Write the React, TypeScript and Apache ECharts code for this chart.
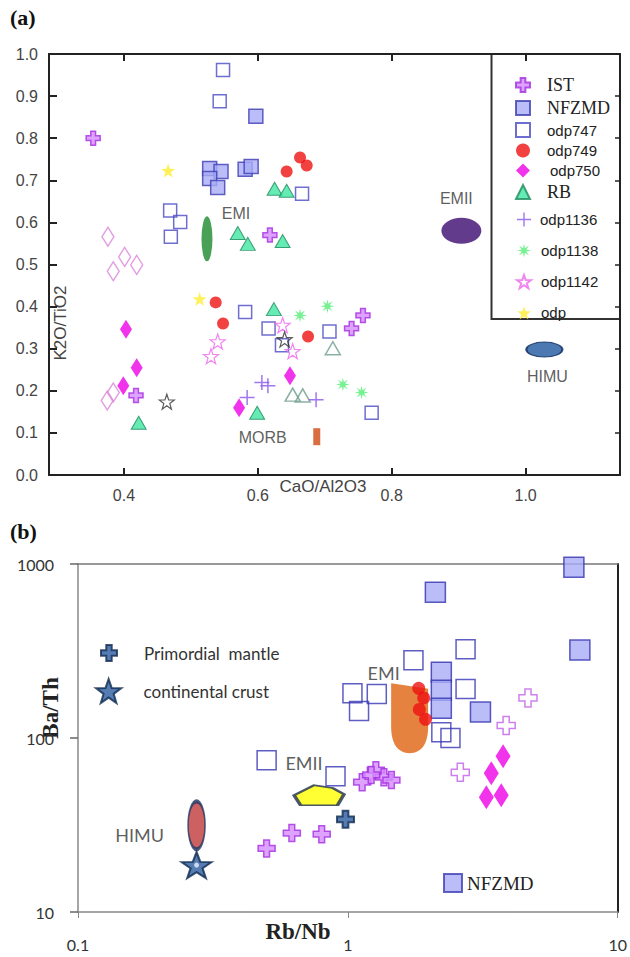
import React, { useEffect, useRef } from 'react';
import * as echarts from 'echarts';

// ---------- Panel (a): CaO/Al2O3 vs K2O/TiO2 ----------
const xTicksA = [0.4, 0.6, 0.8, 1.0];
const xTickLabelsA = ['0.4', '0.6', '0.8', '1.0'];
const yTickLabelsA = ['0.0', '0.1', '0.2', '0.3', '0.4', '0.5', '0.6', '0.7', '0.8', '0.9', '1.0'];

const istA = [[0.354, 0.80], [0.618, 0.570], [0.740, 0.348], [0.757, 0.379], [0.418, 0.189]];
const nfzmdA = [[0.597, 0.852], [0.528, 0.728], [0.545, 0.721], [0.528, 0.704], [0.540, 0.683], [0.581, 0.726], [0.590, 0.733]];
const odp747A = [[0.548, 0.962], [0.543, 0.888], [0.469, 0.628], [0.484, 0.601], [0.470, 0.566], [0.666, 0.668], [0.581, 0.387], [0.616, 0.348], [0.636, 0.308], [0.707, 0.341], [0.770, 0.148]];
const odp749A = [[0.663, 0.754], [0.673, 0.735], [0.643, 0.721], [0.537, 0.410], [0.548, 0.360], [0.675, 0.329]];
const odp750A = [[0.403, 0.346], [0.419, 0.255], [0.399, 0.212], [0.572, 0.160], [0.648, 0.236]];
const openDiamondA = [[0.376, 0.566], [0.401, 0.518], [0.384, 0.484], [0.419, 0.499], [0.375, 0.177], [0.384, 0.196]];
const rbA = [[0.625, 0.680], [0.643, 0.675], [0.570, 0.575], [0.585, 0.549], [0.637, 0.556], [0.624, 0.394], [0.422, 0.124], [0.599, 0.148]];
const openTriA = [[0.652, 0.191], [0.667, 0.189], [0.712, 0.301]];
const odp1136A = [[0.584, 0.184], [0.606, 0.220], [0.615, 0.212], [0.687, 0.179]];
const odp1138A = [[0.663, 0.379], [0.704, 0.401], [0.727, 0.215], [0.755, 0.196]];
const odp1142A = [[0.540, 0.317], [0.530, 0.282], [0.637, 0.356], [0.652, 0.294]];
const darkStarA = [[0.464, 0.174], [0.640, 0.322]];
const odpA = [[0.466, 0.723], [0.513, 0.418]];

const regionNamesA = ['EMI', 'EMII', 'HIMU', 'MORB'];
const regionValuesA = [[0.524, 0.561], [0.904, 0.580], [1.028, 0.298], [0.688, 0.091]];

// ---------- Panel (b): Rb/Nb vs Ba/Th (log-log) ----------
const xTickLabelsB = ['0.1', '1', '10'];
const yTickLabelsB = ['10', '100', '1000'];

const odp747B = [[1.75, 280], [2.73, 324], [1.04, 181], [1.28, 179], [1.10, 143], [2.73, 191], [2.22, 108], [2.40, 100], [0.50, 74.5], [0.90, 60.3]];
const nfzmdB = [[6.88, 959], [2.11, 689], [7.24, 320], [2.22, 239], [2.22, 188], [2.22, 148], [3.10, 141]];
const odp749B = [[1.83, 193], [1.91, 170], [1.84, 146], [1.94, 128]];
const istOpenB = [[4.65, 170], [3.86, 118], [2.61, 63.5]];
const istB = [[1.13, 55.7], [1.27, 65.3], [1.36, 59.5], [1.45, 57.3], [1.22, 61.3], [0.50, 23.2], [0.62, 28.4], [0.80, 28.0]];
const odp750B = [[3.76, 78.6], [3.40, 62.8], [3.70, 46.9], [3.26, 45.7]];
const primordialMantleB = [[0.98, 34.1]];
const continentalCrustB = [[0.275, 18.6]];

const regionNamesB = ['HIMU', 'EMII', 'EMI'];
const regionValuesB = [[0.275, 31.5], [0.782, 46.9], [1.694, 130]];

// ---------- symbols ----------
const CROSS = 'path://M33,0 H67 V33 H100 V67 H67 V100 H33 V67 H0 V33 H33 Z';
const THIN_PLUS = 'path://M45,0 H55 V45 H100 V55 H55 V100 H45 V55 H0 V45 H45 Z';
const STAR5 = 'path://M50,0 L61.8,33.8 L97.6,34.5 L69,56.2 L79.4,90.5 L50,70 L20.6,90.5 L31,56.2 L2.4,34.5 L38.2,33.8 Z';
const ASTER = 'path://M100,50 L66.6,56.9 L85.4,85.4 L56.9,66.6 L50,100 L43.1,66.6 L14.6,85.4 L33.4,56.9 L0,50 L33.4,43.1 L14.6,14.6 L43.1,33.4 L50,0 L56.9,33.4 L85.4,14.6 L66.6,43.1 Z';
const ELLIPSE = 'path://M0,50 A50,50 0 1,1 100,50 A50,50 0 1,1 0,50 Z';
const SHIELD = 'path://M0,0 L100,8 L100,62 C100,88 80,100 50,100 C20,100 0,88 0,62 Z';
const PENTAGON = 'path://M0,50 L40,0 L77,14 L100,45 L87,100 L13,100 Z';

const SANS = '"Liberation Sans", Arial, sans-serif';
const SERIF = '"Liberation Serif", "Times New Roman", serif';
const CAL = 'Lato, "Open Sans", sans-serif';

function pts(name: string, data: number[][], symbol: string, size: any, itemStyle: any, panel: number, extra: any = {}) {
  return {
    type: 'scatter',
    name,
    data,
    symbol,
    symbolSize: size,
    itemStyle,
    xAxisIndex: panel === 0 ? 0 : 2,
    yAxisIndex: panel === 0 ? 0 : 2,
    emphasis: { disabled: true },
    ...extra,
  };
}

function regionLabel(text: string, offset: number[], font: string, size: number) {
  return {
    label: {
      show: true,
      position: 'inside',
      offset,
      formatter: text,
      color: '#333',
      fontFamily: font,
      fontSize: size,
    },
  };
}

const hollow = 'rgba(255,255,255,0)';

const regionStylesA = [
  { symbol: ELLIPSE, size: [11, 45], style: { color: '#1b8a2e' }, offset: [29, -25] },
  { symbol: ELLIPSE, size: [40, 26], style: { color: '#3c0a70' }, offset: [-5, -32] },
  { symbol: ELLIPSE, size: [36, 15], style: { color: '#2158a0', borderColor: '#0c2a5c', borderWidth: 1.5 }, offset: [3, 27] },
  { symbol: 'rect', size: [7, 17], style: { color: '#d04a14' }, offset: [-54, 1] },
];
const regionStylesB = [
  { symbol: ELLIPSE, size: [17, 48], style: { color: '#c03a3a', borderColor: '#1d3461', borderWidth: 2.5 }, offset: [-57, 10] },
  { symbol: PENTAGON, size: [50, 20], style: { color: '#ffff00', borderColor: '#1d2d4f', borderWidth: 2.5 }, offset: [-15, -32] },
  { symbol: SHIELD, size: [37, 70], style: { color: '#e0630f' }, offset: [-26, -45] },
];

const istStyle = { color: '#d58cff', borderColor: '#a52de0', borderWidth: 1.5 };
const nfzmdStyle = { color: '#a9adf5', borderColor: '#3c3cb4', borderWidth: 1.5 };
const odp747Style = { color: hollow, borderColor: '#4a4ac4', borderWidth: 1.5 };

function buildOption() {
  const series: any[] = [];

  regionNamesA.forEach((n, i) => {
    const s = regionStylesA[i];
    series.push(pts(n + ' (a)', [regionValuesA[i]], s.symbol, s.size, s.style, 0, regionLabel(n, s.offset, SANS, 16)));
  });
  series.push(pts('open diamonds', openDiamondA, 'diamond', [12, 19], { color: hollow, borderColor: '#d98ad9', borderWidth: 1.5 }, 0));
  series.push(pts('odp747', odp747A, 'rect', 13, odp747Style, 0));
  series.push(pts('NFZMD', nfzmdA, 'rect', 14, nfzmdStyle, 0));
  series.push(pts('RB', rbA, 'triangle', [15, 13], { color: '#3ee6a0', borderColor: '#1d8a5c', borderWidth: 1 }, 0));
  series.push(pts('open triangles', openTriA, 'triangle', [15, 13], { color: hollow, borderColor: '#6e9e8e', borderWidth: 1.5 }, 0));
  series.push(pts('odp749', odp749A, 'circle', 12, { color: '#ee1111' }, 0));
  series.push(pts('odp750', odp750A, 'diamond', [12, 19], { color: '#ee00e6' }, 0));
  series.push(pts('odp1136', odp1136A, THIN_PLUS, 15, { color: '#8a55ee' }, 0));
  series.push(pts('odp1138', odp1138A, ASTER, 14, { color: '#55ee77' }, 0));
  series.push(pts('odp1142', odp1142A, STAR5, 15, { color: hollow, borderColor: '#ee66ee', borderWidth: 1.2 }, 0));
  series.push(pts('dark stars', darkStarA, STAR5, 15, { color: hollow, borderColor: '#333', borderWidth: 1.2 }, 0));
  series.push(pts('IST', istA, CROSS, 14, istStyle, 0));
  series.push(pts('odp', odpA, STAR5, 14, { color: '#ffee33' }, 0));

  regionNamesB.forEach((n, i) => {
    const s = regionStylesB[i];
    series.push(pts(n + ' (b)', [regionValuesB[i]], s.symbol, s.size, s.style, 1, regionLabel(n, s.offset, CAL, 18)));
  });
  series.push(pts('odp747 (b)', odp747B, 'rect', 19, { color: hollow, borderColor: '#3434b4', borderWidth: 1.5 }, 1));
  series.push(pts('NFZMD', nfzmdB, 'rect', 20, { color: '#a9adf5', borderColor: '#3232b0', borderWidth: 1.5 }, 1));
  series.push(pts('odp749 (b)', odp749B, 'circle', 13, { color: '#ee1111' }, 1));
  series.push(pts('IST open (b)', istOpenB, CROSS, 18, { color: '#fff', borderColor: '#c060e8', borderWidth: 1.5 }, 1));
  series.push(pts('IST (b)', istB, CROSS, 17, istStyle, 1));
  series.push(pts('odp750 (b)', odp750B, 'diamond', [15, 24], { color: '#ee00e6' }, 1));
  series.push(pts('Primordial  mantle', primordialMantleB, CROSS, 17, { color: '#2a5da0', borderColor: '#0f2a50', borderWidth: 2 }, 1));
  series.push(pts('continental crust', continentalCrustB, STAR5, [30, 26], { color: '#2a5da0', borderColor: '#0f2a50', borderWidth: 2 }, 1));
  series.push(pts('continental crust centre', continentalCrustB, 'circle', 5, { color: '#e8f0ff' }, 1));

  const darkLine = { color: '#222', width: 2 };
  const grayLine = { color: '#888', width: 1.5 };

  const serifItem = (name: string, icon: string, pad: number) => ({ name, icon, textStyle: { fontFamily: SERIF, fontSize: 18, padding: [0, 0, 0, pad] } });
  const sansItem = (name: string, icon: string, pad: number) => ({ name, icon, textStyle: { fontFamily: SANS, fontSize: 15, padding: [0, 0, 0, pad] } });

  return {
    animation: false,
    backgroundColor: '#fff',
    grid: [
      { left: 49, top: 54, width: 571, height: 421 },
      { left: 78, top: 564, width: 542, height: 348 },
    ],
    xAxis: [
      {
        gridIndex: 0, type: 'value', min: 0.288, max: 1.141, position: 'bottom',
        axisLine: { onZero: false, lineStyle: darkLine },
        axisTick: { inside: true, length: 7, customValues: xTicksA, lineStyle: darkLine },
        axisLabel: { customValues: xTicksA, formatter: (v: number) => xTickLabelsA[xTicksA.findIndex((t) => Math.abs(t - v) < 1e-6)] ?? '', margin: 12, fontSize: 16, color: '#444', fontFamily: SANS },
        splitLine: { show: false },
      },
      {
        gridIndex: 0, type: 'value', min: 0.288, max: 1.141, position: 'top',
        axisLine: { onZero: false, lineStyle: darkLine },
        axisTick: { inside: true, length: 7, customValues: xTicksA, lineStyle: darkLine },
        axisLabel: { show: false },
        splitLine: { show: false },
      },
      {
        gridIndex: 1, type: 'log', logBase: 10, min: 0.1, max: 10, position: 'bottom',
        axisLine: { onZero: false, lineStyle: grayLine },
        axisTick: { show: true, length: 6, lineStyle: { color: '#888' } },
        axisLabel: { formatter: (v: number) => xTickLabelsB[Math.round(Math.log10(v)) + 1], margin: 24, fontSize: 16, color: '#333', fontFamily: CAL },
        splitLine: { show: false },
      },
      {
        gridIndex: 1, type: 'log', logBase: 10, min: 0.1, max: 10, position: 'top',
        axisLine: { onZero: false, lineStyle: { color: '#777', width: 1.5 } },
        axisTick: { show: false },
        axisLabel: { show: false },
        splitLine: { show: false },
      },
    ],
    yAxis: [
      {
        gridIndex: 0, type: 'value', min: 0, max: 1, interval: 0.1, position: 'left',
        axisLine: { show: true, onZero: false, lineStyle: darkLine },
        axisTick: { inside: true, length: 8, lineStyle: darkLine },
        axisLabel: { formatter: (v: number) => yTickLabelsA[Math.round(v * 10)], margin: 11, fontSize: 16, color: '#444', fontFamily: SANS },
        splitLine: { show: false },
      },
      {
        gridIndex: 0, type: 'value', min: 0, max: 1, interval: 0.1, position: 'right',
        axisLine: { show: true, onZero: false, lineStyle: darkLine },
        axisTick: { inside: true, length: 5, lineStyle: { color: '#222', width: 1.5 } },
        axisLabel: { show: false },
        splitLine: { show: false },
      },
      {
        gridIndex: 1, type: 'log', logBase: 10, min: 10, max: 1000, position: 'left',
        axisLine: { show: true, onZero: false, lineStyle: grayLine },
        axisTick: { show: true, length: 8, lineStyle: { color: '#666', width: 1.5 } },
        axisLabel: { formatter: (v: number) => yTickLabelsB[Math.round(Math.log10(v)) - 1], margin: 24, fontSize: 16, color: '#333', fontFamily: CAL },
        splitLine: { show: false },
      },
      {
        gridIndex: 1, type: 'log', logBase: 10, min: 10, max: 1000, position: 'right',
        axisLine: { show: true, onZero: false, lineStyle: darkLine },
        axisTick: { show: false },
        axisLabel: { show: false },
        splitLine: { show: false },
      },
    ],
    legend: [
      {
        left: 510, top: 71, orient: 'vertical', itemWidth: 14, itemHeight: 14, itemGap: 5, selectedMode: false,
        textStyle: { color: '#222' },
        data: [
          serifItem('IST', CROSS, 12),
          serifItem('NFZMD', 'rect', 12),
          sansItem('odp747', 'rect', 12),
          sansItem('odp749', 'circle', 12),
          sansItem('odp750', 'diamond', 15),
          serifItem('RB', 'triangle', 12),
        ],
      },
      {
        left: 511, top: 207, orient: 'vertical', itemWidth: 14, itemHeight: 14, itemGap: 16, selectedMode: false,
        textStyle: { color: '#222' },
        data: [
          sansItem('odp1136', THIN_PLUS, 4),
          sansItem('odp1138', ASTER, 5),
          sansItem('odp1142', STAR5, 5),
          sansItem('odp', STAR5, 5),
        ],
      },
      {
        left: 95, top: 639, itemWidth: 16, itemHeight: 16, selectedMode: false,
        textStyle: { color: '#333', fontFamily: CAL, fontSize: 17, padding: [0, 0, 0, 22] },
        data: [{ name: 'Primordial  mantle', icon: CROSS }],
      },
      {
        left: 90, top: 673, itemWidth: 30, itemHeight: 24, selectedMode: false,
        textStyle: { color: '#333', fontFamily: CAL, fontSize: 17, padding: [0, 0, 0, 15] },
        data: [{ name: 'continental crust', icon: STAR5 }],
      },
      {
        left: 438, top: 868, itemWidth: 18, itemHeight: 18, selectedMode: false,
        textStyle: { color: '#222', fontFamily: SERIF, fontSize: 19 },
        data: [{ name: 'NFZMD', icon: 'rect' }],
      },
    ],
    graphic: [
      { type: 'text', x: 10, y: 6, style: { text: '(a)', font: `bold 22px ${SERIF}`, fill: '#111' } },
      { type: 'text', x: 10, y: 520, style: { text: '(b)', font: `bold 22px ${SERIF}`, fill: '#111' } },
      {
        type: 'text', x: 60, y: 323, rotation: Math.PI / 2,
        style: { text: 'K2O/TiO2', font: `17px ${SANS}`, fill: '#444', align: 'center', verticalAlign: 'middle', textAlign: 'center', textVerticalAlign: 'middle' },
      },
      {
        type: 'text', x: 323, y: 486,
        style: { text: 'CaO/Al2O3', font: `17px ${SANS}`, fill: '#444', align: 'center', verticalAlign: 'middle', textAlign: 'center', textVerticalAlign: 'middle' },
      },
      {
        type: 'text', x: 50, y: 708, rotation: Math.PI / 2,
        style: { text: 'Ba/Th', font: `bold 23px ${SERIF}`, fill: '#222', align: 'center', verticalAlign: 'middle', textAlign: 'center', textVerticalAlign: 'middle' },
      },
      {
        type: 'text', x: 298, y: 931,
        style: { text: 'Rb/Nb', font: `bold 23px ${SERIF}`, fill: '#222', align: 'center', verticalAlign: 'middle', textAlign: 'center', textVerticalAlign: 'middle' },
      },
      {
        type: 'polyline',
        shape: { points: [[491.5, 54], [491.5, 319], [620, 319]] },
        style: { stroke: '#333', lineWidth: 2, fill: null },
      },
    ],
    series,
  };
}

export default function App() {
  const ref = useRef<HTMLDivElement>(null);
  useEffect(() => {
    if (!ref.current) return;
    const chart = echarts.init(ref.current, null, { renderer: 'svg' });
    chart.setOption(buildOption() as any);
    return () => chart.dispose();
  }, []);
  return (
    <div
      ref={ref}
      style={{ position: 'absolute', left: 0, top: 0, width: 630, height: 957, background: '#fff' }}
    />
  );
}
